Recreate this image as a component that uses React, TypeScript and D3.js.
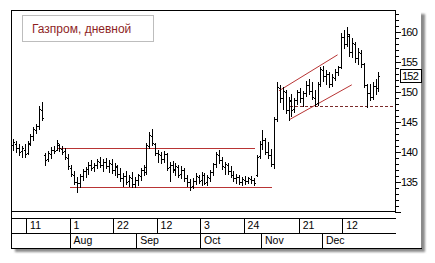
import React from 'react';
import * as d3 from 'd3';

// Gazprom daily bars, Jul 4 .. Dec 2005 (one value per trading day)
const opens = [
  141.2, 141.4, 140.6, 140.1, 140.4, 139.8, 141.5, 142.6, 143.7, 144.4, 147.0,
  139.5, 138.8, 139.6, 140.3, 140.4, 141.2, 140.5, 140.1, 139.0, 137.4, 136.2, 135.0,
  134.8, 136.0, 136.8, 137.2, 137.8, 137.5, 137.9, 138.4, 137.9, 138.3, 137.6, 138.0,
  137.0, 137.5, 136.4, 135.7, 136.0, 135.1, 135.7, 134.7, 135.3, 136.0, 137.0,
  136.6, 141.0, 142.6, 141.4, 139.8, 139.5, 138.8, 139.6, 137.5, 137.8, 137.1, 137.5,
  136.3, 137.0, 135.6, 135.0, 134.3, 135.2, 135.9, 135.3, 136.1, 135.0, 135.7, 136.6,
  138.0, 139.5, 138.6, 137.5, 137.9, 136.8, 136.2, 135.6, 135.8, 135.0, 135.4, 135.2,
  135.5, 135.3,
  136.2, 139.3, 141.4, 142.0, 140.0, 139.5, 138.0, 145.5, 150.6, 149.0, 150.0, 147.0,
  148.5, 147.2, 148.6, 150.0, 149.0, 149.8, 151.2, 150.2, 149.0, 148.2, 151.4, 153.6,
  152.6, 153.0, 151.4, 152.4, 153.4, 154.2, 159.2, 158.0, 159.4, 156.6, 158.0, 155.6,
  156.5, 154.6, 151.2, 149.8, 149.2, 151.0, 150.6,
];
const highs = [
  142.2, 141.9, 141.3, 141.0, 141.3, 141.8, 143.0, 144.2, 144.6, 147.6, 148.3,
  139.8, 140.2, 140.8, 141.0, 142.0, 141.3, 141.0, 140.6, 139.6, 137.8, 136.8, 135.8,
  136.4, 137.2, 137.5, 138.3, 138.6, 138.2, 138.9, 139.2, 138.8, 139.0, 138.6, 138.9,
  138.2, 137.9, 137.3, 136.5, 136.8, 136.2, 136.6, 135.8, 136.4, 137.4, 137.8,
  141.5, 143.4, 143.9, 141.5, 140.4, 140.0, 140.2, 139.9, 138.4, 138.5, 138.2, 137.8,
  137.6, 137.3, 136.2, 135.5, 135.6, 136.5, 136.2, 136.6, 136.5, 136.2, 137.0, 138.2,
  140.0, 140.4, 139.2, 138.4, 138.2, 137.6, 136.9, 136.4, 136.2, 135.8, 136.0, 135.9,
  136.0, 135.6,
  139.5, 141.8, 143.6, 142.4, 141.6, 140.5, 145.8, 151.7, 151.2, 150.8, 150.4, 149.2,
  149.6, 149.0, 150.4, 150.6, 150.2, 151.8, 152.2, 151.6, 150.4, 151.6, 154.2, 154.4,
  153.6, 153.4, 153.0, 153.8, 154.4, 159.8, 160.3, 160.8, 159.6, 159.0, 158.4, 157.3,
  157.0, 154.8, 151.4, 151.4, 151.6, 152.2, 153.4,
];
const lows = [
  140.3, 140.0, 139.5, 139.2, 139.1, 139.6, 141.2, 142.0, 143.2, 143.9, 145.3,
  137.8, 138.5, 139.0, 139.8, 140.3, 140.1, 139.6, 138.8, 137.2, 136.0, 134.6, 133.3,
  134.2, 135.4, 135.8, 136.4, 137.0, 136.8, 137.3, 137.5, 136.9, 137.4, 136.7, 136.5,
  136.2, 135.9, 135.2, 134.3, 134.6, 134.4, 134.2, 134.1, 134.5, 135.4, 136.2,
  136.3, 140.7, 141.2, 139.5, 138.4, 138.2, 138.3, 137.0, 135.2, 136.6, 136.2, 135.8,
  135.6, 135.2, 134.4, 133.6, 134.0, 134.6, 134.8, 134.5, 134.6, 134.5, 135.2, 136.2,
  137.5, 138.2, 137.2, 136.4, 136.4, 135.8, 135.2, 134.9, 134.6, 134.5, 134.7, 134.8,
  134.9, 134.5,
  136.0, 139.0, 140.5, 139.6, 139.0, 137.6, 137.4, 145.2, 148.4, 147.2, 146.5, 145.3,
  146.0, 146.6, 148.0, 148.4, 147.6, 149.3, 149.6, 148.8, 147.6, 147.8, 151.0, 151.8,
  151.4, 150.8, 151.0, 152.0, 152.8, 154.0, 157.4, 157.6, 156.0, 155.8, 155.0, 154.6,
  154.2, 150.8, 147.5, 148.6, 148.8, 149.6, 150.2,
];
const closes = [
  141.6, 140.6, 140.0, 140.6, 139.6, 141.4, 142.7, 143.8, 144.3, 147.1, 145.6,
  138.6, 139.8, 140.4, 140.2, 141.5, 140.6, 140.0, 139.2, 137.6, 136.4, 135.0, 134.8,
  136.0, 136.9, 137.2, 137.9, 137.4, 137.9, 138.5, 137.8, 138.4, 137.6, 138.2, 137.0,
  137.6, 136.4, 135.6, 136.0, 135.0, 135.8, 134.6, 135.4, 136.1, 137.0, 137.5,
  141.2, 142.8, 141.5, 139.9, 139.6, 138.8, 139.6, 137.4, 137.8, 137.0, 137.6, 136.2,
  137.0, 135.6, 135.0, 134.2, 135.2, 136.0, 135.2, 136.2, 134.9, 135.8, 136.6, 138.0,
  139.6, 138.6, 137.6, 138.0, 136.8, 136.2, 135.6, 135.9, 135.0, 135.5, 135.2, 135.6,
  135.3, 134.8,
  139.2, 141.4, 142.0, 140.0, 139.5, 138.0, 145.5, 150.8, 149.0, 150.2, 147.0, 148.6,
  147.0, 148.6, 150.0, 149.0, 149.8, 151.2, 150.2, 149.2, 148.0, 151.4, 153.8, 152.6,
  153.0, 151.3, 152.5, 153.4, 154.2, 159.2, 158.0, 159.6, 156.6, 158.2, 155.6, 156.6,
  154.6, 151.2, 149.8, 149.2, 151.0, 150.6, 152.7,
];

// bottom scale: trading-day index of each label
const dayTicks = [5, 20, 35, 50, 65, 80, 99, 114];
const dayLabels = ['11', '1', '22', '12', '3', '24', '21', '12'];
const monthTicks = [20, 43, 65, 86, 107];
const monthLabels = ['Aug', 'Sep', 'Oct', 'Nov', 'Dec'];

const priceLabels = [135, 140, 145, 150, 155, 160];

// drawn lines, in [day index, price]
const resistance = [[15.5, 140.75], [83.5, 140.75]];
const support = [[19.7, 134.2], [89.3, 134.2]];
const chanTop = [[91.7, 150.2], [111.9, 156.2]];
const chanBottom = [[95.5, 145.45], [116.8, 151.2]];
const dashLevel = [[95.5, 147.7], [131.7, 147.7]];

const lastPrice = '152';

const W = 435, H = 263;
const L = 11, R = 395, T = 10, B = 212, OUT_R = 421, OUT_B = 248;
const ROW1 = 218, ROW2 = 233;

export default function App() {
  const x = d3.scaleLinear().domain([-0.7, 131.7]).range([L, R]);
  const y = d3.scaleLinear().domain([130, 163.67]).range([B, T]);
  const step = x(1) - x(0);
  const crisp = (v: number) => Math.round(v) + 0.5;
  const line = d3.line<number[]>().x(d => x(d[0])).y(d => y(d[1]));
  const flat = d3.line<number[]>().x(d => x(d[0])).y(d => crisp(y(d[1])));
  const font = 'Arial, "Liberation Sans", sans-serif';
  const red = '#b83434';

  const ticks = d3.range(130, 164);

  return (
    <svg width={W} height={H} style={{ position: 'absolute', left: 0, top: 0, background: '#fff' }}>
      <defs>
        <filter id="sh" x="-5%" y="-5%" width="110%" height="110%">
          <feGaussianBlur stdDeviation="1.2" />
        </filter>
      </defs>
      {/* drop shadow and panel */}
      <rect x={L + 4} y={T + 4} width={OUT_R - L} height={OUT_B - T} fill="#8a8a8a" filter="url(#sh)" />
      <rect x={L} y={T} width={OUT_R - L} height={OUT_B - T} fill="#fff" />

      <g shapeRendering="crispEdges" stroke="#000" strokeWidth={1}>
        <line x1={L + 0.5} x2={L + 0.5} y1={T} y2={OUT_B + 1} />
        <line x1={L} x2={R + 1} y1={T + 0.5} y2={T + 0.5} />
        <line x1={R + 0.5} x2={R + 0.5} y1={T} y2={B} />
        <line x1={L} x2={R + 1} y1={B - 0.5} y2={B - 0.5} />
        <line x1={L} x2={R + 1} y1={ROW1 + 0.5} y2={ROW1 + 0.5} />
        <line x1={L} x2={R + 1} y1={ROW2 + 0.5} y2={ROW2 + 0.5} />
        <line x1={L} x2={OUT_R + 1} y1={OUT_B + 0.5} y2={OUT_B + 0.5} />
        {dayTicks.map((d, k) => (
          <line key={'dt' + k} x1={crisp(x(d) - step / 2)} x2={crisp(x(d) - step / 2)} y1={ROW1} y2={ROW2} />
        ))}
        {monthTicks.map((d, k) => (
          <line key={'mt' + k} x1={crisp(x(d) - step / 2)} x2={crisp(x(d) - step / 2)} y1={ROW2} y2={OUT_B} />
        ))}
        {ticks.map(v => (
          <line key={'yt' + v} x1={R} x2={R + (v % 5 === 0 ? 6 : 4)} y1={crisp(y(v) - 0.5)} y2={crisp(y(v) - 0.5)} />
        ))}
      </g>

      {/* price levels */}
      <g shapeRendering="crispEdges" stroke={red} strokeWidth={1} fill="none">
        <path d={flat(resistance) || ''} />
        <path d={flat(support) || ''} />
      </g>
      <g stroke={red} strokeWidth={1} fill="none">
        <path d={line(chanTop) || ''} />
        <path d={line(chanBottom) || ''} />
      </g>
      <path d={flat(dashLevel) || ''} stroke="#7a2a2a" strokeWidth={1} strokeDasharray="3,2"
        shapeRendering="crispEdges" fill="none" />

      {/* OHLC bars */}
      <g fill="#000" shapeRendering="crispEdges">
        {highs.map((h, i) => {
          const bx = Math.round(x(i));
          const yh = Math.round(y(h));
          const yl = Math.round(y(lows[i]));
          return (
            <g key={i}>
              <rect x={bx} y={yh} width={1} height={Math.max(1, yl - yh + 1)} />
              <rect x={bx - 1} y={Math.round(y(opens[i]))} width={1} height={1} />
              <rect x={bx + 1} y={Math.round(y(closes[i]))} width={1} height={1} />
            </g>
          );
        })}
      </g>

      {/* price axis labels */}
      <g fontFamily={font} fontSize={11} fill="#000" letterSpacing={-0.8}>
        {priceLabels.map(v => (
          <text key={v} x={R + 6} y={y(v)} dy="0.36em">{v}</text>
        ))}
      </g>
      <rect x={R + 5.5} y={crisp(y(closes[closes.length - 1]) - 7)} width={OUT_R - R - 5} height={13}
        fill="#fff" stroke="#000" shapeRendering="crispEdges" />
      <text x={R + 7} y={y(closes[closes.length - 1])} dy="0.36em" fontFamily={font} fontSize={11}
        letterSpacing={-0.8}>{lastPrice}</text>

      {/* date rows */}
      <g fontFamily={font} fontSize={10.5} fill="#000">
        {dayTicks.map((d, k) => (
          <text key={'dl' + k} x={x(d) - step / 2 + 4} y={ROW2 - 4}>{dayLabels[k]}</text>
        ))}
        {monthTicks.map((d, k) => (
          <text key={'ml' + k} x={x(d) - step / 2 + 4} y={OUT_B - 4.5}>{monthLabels[k]}</text>
        ))}
      </g>

      {/* title box */}
      <rect x={22.5} y={15.5} width={131} height={26} fill="#fff" stroke="#bdbdbd" shapeRendering="crispEdges" />
      <text x={32} y={32.5} fontFamily={font} fontSize={12} fill="#8e1f1f">Газпром, дневной</text>
    </svg>
  );
}
